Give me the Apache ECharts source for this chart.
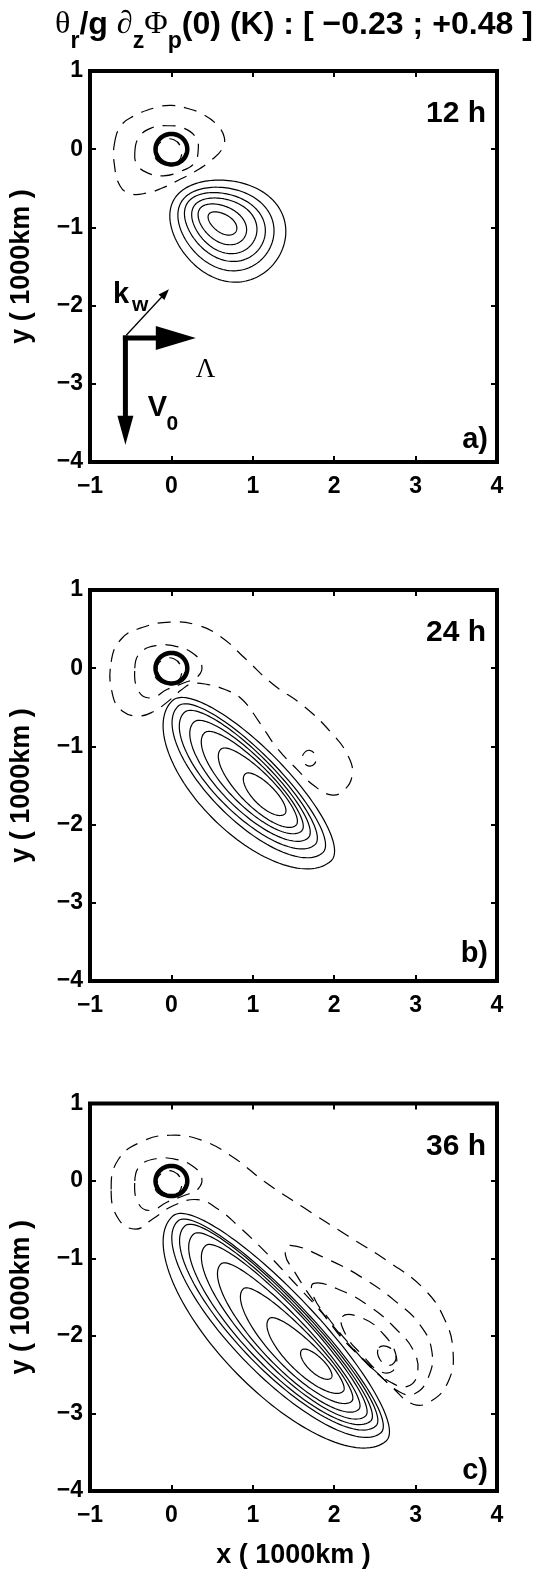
<!DOCTYPE html>
<html><head><meta charset="utf-8">
<script src="https://cdn.jsdelivr.net/npm/echarts@6.0.0/dist/echarts.min.js"></script>
<style>html,body{margin:0;padding:0;background:#fff}#c{width:543px;height:1570px}</style>
</head><body><div id="c"></div>
<script>
// ================= DATA =================
const xTicks = [-1, 0, 1, 2, 3, 4];
const yTicks = [-4, -3, -2, -1, 0, 1];
const timeLabels = ['12 h', '24 h', '36 h'];
const panelLetters = ['a)', 'b)', 'c)'];
const titleParts = [['θ', 'sym'], ['r', 'sub'], ['/g ', 'main'], ['∂', 'sym'], ['z', 'sub'], ['Φ', 'sym'], ['p', 'sub'], ['(0) (K) : [ −0.23 ; +0.48 ]', 'main']];

// obstacle circle (centre x, centre y, radius) in 1000 km
const obstacle = [0, 0, 0.195];

// positive (solid) contours: major-axis tips x1,y1,x2,y2, half-width upper-right, half-width lower-left, egg factor
const solidA = [
  [0.461, -0.830, 0.789, -1.060, 0.115, 0.115, 0.10],
  [0.350, -0.761, 0.890, -1.139, 0.22, 0.22, 0.12],
  [0.279, -0.726, 1.001, -1.194, 0.32, 0.32, 0.15],
  [0.196, -0.689, 1.094, -1.251, 0.40, 0.40, 0.15],
  [0.124, -0.671, 1.186, -1.309, 0.50, 0.50, 0.15],
  [0.034, -0.640, 1.316, -1.380, 0.62, 0.62, 0.15]
];
const solidB = [
  [0.907, -1.352, 1.392, -1.864, 0.12, 0.15, 0],
  [0.608, -1.036, 1.530, -2.009, 0.18, 0.24, 0],
  [0.408, -0.826, 1.599, -2.082, 0.22, 0.31, 0],
  [0.278, -0.688, 1.681, -2.169, 0.26, 0.38, 0],
  [0.161, -0.564, 1.764, -2.256, 0.30, 0.45, 0],
  [0.085, -0.484, 1.860, -2.358, 0.34, 0.52, 0],
  [0.016, -0.412, 1.960, -2.465, 0.41, 0.68, 0]
];
const solidC = [
  [1.603, -2.179, 1.962, -2.543, 0.09, 0.11, 0],
  [1.203, -1.774, 2.110, -2.714, 0.15, 0.23, 0],
  [0.886, -1.389, 2.215, -2.842, 0.19, 0.31, 0],
  [0.612, -1.068, 2.300, -2.949, 0.23, 0.38, 0],
  [0.422, -0.833, 2.384, -3.034, 0.27, 0.44, 0],
  [0.274, -0.684, 2.447, -3.098, 0.30, 0.50, 0],
  [0.169, -0.577, 2.511, -3.162, 0.33, 0.55, 0],
  [0.084, -0.513, 2.574, -3.248, 0.37, 0.61, 0],
  [0.021, -0.449, 2.637, -3.355, 0.45, 0.78, 0]
];

// negative (dashed) contours: closed point lists (x, y) in 1000 km
const dashA = [
  [[-0.70, 0.07], [-0.62, 0.30], [-0.47, 0.42], [-0.20, 0.53], [0.0, 0.56], [0.20, 0.52], [0.40, 0.44], [0.56, 0.31], [0.65, 0.15], [0.62, 0.0], [0.50, -0.13], [0.30, -0.28], [0.08, -0.40], [-0.12, -0.50], [-0.30, -0.56], [-0.50, -0.57], [-0.63, -0.47], [-0.70, -0.20]],
  [[-0.45, -0.05], [-0.40, 0.15], [-0.25, 0.27], [-0.05, 0.30], [0.15, 0.27], [0.30, 0.15], [0.33, 0.0], [0.28, -0.18], [0.12, -0.28], [-0.10, -0.34], [-0.30, -0.30], [-0.42, -0.20]],
  [[-0.20, -0.05], [-0.12, 0.10], [0.03, 0.12], [0.12, 0.0], [0.09, -0.15], [-0.05, -0.20], [-0.17, -0.15]]
];
const dashB = [
  [[-0.74, 0.08], [-0.61, 0.38], [-0.36, 0.52], [-0.02, 0.59], [0.32, 0.55], [0.61, 0.40], [0.91, 0.12], [1.24, -0.20], [1.62, -0.48], [1.96, -0.82], [2.17, -1.12], [2.22, -1.37], [2.11, -1.57], [1.96, -1.62], [1.75, -1.50], [1.54, -1.29], [1.29, -1.01], [1.08, -0.69], [0.86, -0.39], [0.65, -0.27], [0.45, -0.21], [0.25, -0.20], [0.12, -0.28], [-0.06, -0.44], [-0.23, -0.56], [-0.40, -0.61], [-0.60, -0.55], [-0.72, -0.35]],
  [[-0.45, 0.0], [-0.38, 0.20], [-0.18, 0.29], [0.05, 0.28], [0.25, 0.20], [0.37, 0.05], [0.33, -0.10], [0.15, -0.19], [-0.05, -0.27], [-0.25, -0.38], [-0.40, -0.30]],
  [[-0.20, -0.05], [-0.12, 0.10], [0.03, 0.12], [0.12, 0.0], [0.09, -0.15], [-0.05, -0.20], [-0.17, -0.15]],
  [[1.62, -1.10], [1.70, -1.05], [1.77, -1.12], [1.76, -1.22], [1.68, -1.25], [1.62, -1.18]]
];
const dashC = [
  [[-0.74, -0.11], [-0.65, 0.28], [-0.36, 0.51], [-0.02, 0.59], [0.36, 0.53], [0.74, 0.32], [1.16, -0.02], [1.62, -0.34], [2.17, -0.71], [2.68, -1.05], [3.10, -1.39], [3.35, -1.77], [3.46, -2.20], [3.40, -2.59], [3.19, -2.84], [2.97, -2.88], [2.72, -2.67], [2.43, -2.37], [2.13, -2.07], [1.84, -1.69], [1.50, -1.30], [1.16, -0.92], [0.82, -0.58], [0.57, -0.36], [0.32, -0.24], [0.02, -0.32], [-0.23, -0.49], [-0.44, -0.62], [-0.65, -0.49]],
  [[-0.45, 0.0], [-0.38, 0.20], [-0.18, 0.29], [0.05, 0.28], [0.25, 0.20], [0.37, 0.05], [0.33, -0.10], [0.15, -0.19], [-0.05, -0.27], [-0.25, -0.38], [-0.40, -0.30]],
  [[-0.20, -0.05], [-0.12, 0.10], [0.03, 0.12], [0.12, 0.0], [0.09, -0.15], [-0.05, -0.20], [-0.17, -0.15]],
  [[1.46, -0.83], [1.90, -1.00], [2.35, -1.25], [2.75, -1.55], [3.05, -1.85], [3.20, -2.20], [3.15, -2.55], [2.98, -2.75], [2.80, -2.72], [2.60, -2.55], [2.35, -2.30], [2.05, -1.95], [1.75, -1.55], [1.50, -1.15], [1.40, -0.95]],
  [[1.75, -1.32], [2.10, -1.42], [2.45, -1.63], [2.75, -1.90], [2.98, -2.20], [3.02, -2.50], [2.90, -2.65], [2.70, -2.60], [2.45, -2.40], [2.20, -2.12], [1.95, -1.80], [1.75, -1.50]],
  [[2.10, -1.75], [2.35, -1.77], [2.60, -1.97], [2.76, -2.25], [2.72, -2.45], [2.55, -2.45], [2.35, -2.25], [2.15, -2.00]],
  [[2.55, -2.15], [2.68, -2.15], [2.76, -2.28], [2.68, -2.38], [2.56, -2.30]]
];

// panel a arrows: x0, y0, x1, y1 (1000 km)
const arrowsA = [
  [-0.555, -2.38, -0.03, -1.79],   // k_w
  [-0.565, -2.415, 0.30, -2.415],  // Lambda
  [-0.565, -2.415, -0.565, -3.78]  // V0
];
// panel a arrow labels: text, x, y (1000 km)
const arrowLabelsA = [['k', -0.716, -1.86], ['w', -0.484, -1.99], ['Λ', 0.42, -2.82], ['V', -0.29, -3.31], ['0', -0.06, -3.52]];

// ================= LAYOUT / STYLE =================
const FONT = '"Liberation Sans", Arial, Helvetica, sans-serif';
const SERIF = '"Liberation Serif", "Times New Roman", serif';
const GL = 85.5, GW = 411.5, GH = 391;
const tops = [71, 590, 1103.5];
const TICK_FS = 23, NAME_FS = 27;
const fmt = v => String(v).replace('-', '−');

const chart = echarts.init(document.getElementById('c'), null, {renderer: 'canvas', width: 543, height: 1570});

function ellPts(def) {
  const [x1, y1, x2, y2, bu, bl, egg] = def;
  const cx = (x1 + x2) / 2, cy = (y1 + y2) / 2;
  const dx = x2 - x1, dy = y2 - y1, L = Math.hypot(dx, dy), a = L / 2;
  const ux = dx / L, uy = dy / L, nx = -uy, ny = ux;
  const pts = [];
  for (let i = 0; i < 144; i++) {
    const t = i / 144 * 2 * Math.PI, c = Math.cos(t), s = Math.sin(t);
    const u = a * c, v = (s > 0 ? bu : bl) * s * (1 + (egg || 0) * c);
    pts.push([cx + u * ux + v * nx, cy + u * uy + v * ny]);
  }
  return pts;
}
function circlePts(c) {
  const pts = [];
  for (let i = 0; i < 96; i++) { const t = i / 96 * 2 * Math.PI; pts.push([c[0] + c[2] * Math.cos(t), c[1] + c[2] * Math.sin(t)]); }
  return pts;
}

function shapeSeries(p, shapes, lw, dash, smooth) {
  return {
    type: 'custom', coordinateSystem: 'cartesian2d', xAxisIndex: 2 * p, yAxisIndex: 2 * p,
    silent: true, animation: false, clip: true,
    data: shapes.map(() => [0, 0]),
    renderItem: (params, api) => {
      const pts = shapes[params.dataIndex].map(q => api.coord(q));
      return {type: 'polygon', shape: {points: pts, smooth: smooth}, style: {fill: 'none', stroke: '#000', lineWidth: lw, lineDash: dash}};
    }
  };
}
function arrowSeries(p, arrows, specs) {
  return {
    type: 'custom', coordinateSystem: 'cartesian2d', xAxisIndex: 2 * p, yAxisIndex: 2 * p,
    silent: true, animation: false,
    data: arrows.map(() => [0, 0]),
    renderItem: (params, api) => {
      const a = arrows[params.dataIndex], sp = specs[params.dataIndex];
      const p0 = api.coord([a[0], a[1]]), p1 = api.coord([a[2], a[3]]);
      const dx = p1[0] - p0[0], dy = p1[1] - p0[1], L = Math.hypot(dx, dy), ux = dx / L, uy = dy / L;
      const bx = p1[0] - ux * sp.hl, by = p1[1] - uy * sp.hl;
      return {type: 'group', children: [
        {type: 'line', shape: {x1: p0[0], y1: p0[1], x2: bx + ux * 1, y2: by + uy * 1}, style: {stroke: '#000', lineWidth: sp.lw, lineCap: sp.cap}},
        {type: 'polygon', shape: {points: [p1, [bx - uy * sp.hw, by + ux * sp.hw], [bx + uy * sp.hw, by - ux * sp.hw]]}, style: {fill: '#000'}}
      ]};
    }
  };
}
const arrowSpecs = [{lw: 1.3, hl: 11, hw: 4, cap: 'butt'}, {lw: 5, hl: 40, hw: 12, cap: 'square'}, {lw: 5, hl: 29, hw: 8, cap: 'square'}];

const grids = [], xAxes = [], yAxes = [];
const tickStyle = {inside: true, length: 6, lineStyle: {color: '#000', width: 2}};
const noLine = {show: false, onZero: false};
const labStyle = {fontSize: TICK_FS, fontWeight: 'bold', fontFamily: FONT, color: '#000'};
const nameStyle = {fontSize: NAME_FS, fontWeight: 'bold', fontFamily: FONT, color: '#000'};
tops.forEach((t, i) => {
  grids.push({left: GL, top: t, width: GW, height: GH, show: true, borderColor: '#000', borderWidth: 4, backgroundColor: 'rgba(0,0,0,0)'});
  xAxes.push({gridIndex: i, type: 'value', position: 'bottom', min: xTicks[0], max: xTicks[xTicks.length - 1], interval: 1,
    axisLine: noLine, splitLine: {show: false}, axisTick: tickStyle,
    axisLabel: Object.assign({margin: 13, formatter: fmt}, labStyle),
    name: i === 2 ? 'x ( 1000km )' : '', nameLocation: 'middle', nameGap: 51, nameTextStyle: nameStyle});
  xAxes.push({gridIndex: i, type: 'value', position: 'top', min: xTicks[0], max: xTicks[xTicks.length - 1], interval: 1,
    axisLine: noLine, splitLine: {show: false}, axisTick: tickStyle, axisLabel: {show: false}});
  yAxes.push({gridIndex: i, type: 'value', position: 'left', min: yTicks[0], max: yTicks[yTicks.length - 1], interval: 1,
    axisLine: noLine, splitLine: {show: false}, axisTick: tickStyle,
    axisLabel: Object.assign({margin: 7, formatter: fmt}, labStyle),
    name: 'y ( 1000km )', nameLocation: 'middle', nameRotate: 90, nameGap: 55, nameTextStyle: nameStyle});
  yAxes.push({gridIndex: i, type: 'value', position: 'right', min: yTicks[0], max: yTicks[yTicks.length - 1], interval: 1,
    axisLine: noLine, splitLine: {show: false}, axisTick: tickStyle, axisLabel: {show: false}});
});

const DASH = [13, 9];
const series = [];
[[solidA, dashA], [solidB, dashB], [solidC, dashC]].forEach(([sol, das], p) => {
  series.push(shapeSeries(p, sol.map(ellPts), 1.2, null, 0));
  series.push(shapeSeries(p, das, 1.2, DASH, 0.45));
  series.push(shapeSeries(p, [circlePts(obstacle)], 4.5, null, 0));
});
series.push(arrowSeries(0, arrowsA, arrowSpecs));

chart.setOption({animation: false, backgroundColor: '#fff', grid: grids, xAxis: xAxes, yAxis: yAxes, series: series});

// ---------- texts ----------
const ctx = document.createElement('canvas').getContext('2d');
function tw(text, font) { ctx.font = font; return ctx.measureText(text).width; }
const graphics = [];
function titleFonts(s) {
  return {main: 'bold ' + s + 'px ' + FONT, sym: s + 'px ' + SERIF, sub: 'bold ' + (s * 0.72) + 'px ' + FONT};
}
function titleWidth(s) { const f = titleFonts(s); let w = 0; titleParts.forEach(([t, k]) => w += tw(t, f[k])); return w; }
const TITLE_W = 478, TITLE_CX = 294;
const TFS = 30 * TITLE_W / titleWidth(30);
const tf = titleFonts(TFS);
let x = TITLE_CX - titleWidth(TFS) / 2;
const titleMid = 25;
titleParts.forEach(([t, k]) => {
  graphics.push({type: 'text', x: x, y: k === 'sub' ? titleMid + 17 : titleMid, style: {text: t, font: tf[k], fill: '#000', align: 'left', verticalAlign: 'middle'}});
  x += tw(t, tf[k]);
});
const letterOff = [369, 364, 367];
tops.forEach((t, i) => {
  graphics.push({type: 'text', x: GL + GW - 11, y: t + 43, style: {text: timeLabels[i], font: 'bold 30px ' + FONT, fill: '#000', align: 'right', verticalAlign: 'middle'}});
  graphics.push({type: 'text', x: GL + GW - 9, y: t + letterOff[i], style: {text: panelLetters[i], font: 'bold 29px ' + FONT, fill: '#000', align: 'right', verticalAlign: 'middle'}});
});
const labFonts = {'k': 'bold 29px ' + FONT, 'w': 'bold 21px ' + FONT, 'Λ': '27px ' + SERIF, 'V': 'bold 29px ' + FONT, '0': 'bold 21px ' + FONT};
arrowLabelsA.forEach(([t, lx, ly]) => {
  const px = chart.convertToPixel({xAxisIndex: 0, yAxisIndex: 0}, [lx, ly]);
  graphics.push({type: 'text', x: px[0], y: px[1], style: {text: t, font: labFonts[t], fill: '#000', align: t === 'Λ' ? 'center' : 'left', verticalAlign: 'middle'}});
});
chart.setOption({graphic: graphics});
</script>
</body></html>
